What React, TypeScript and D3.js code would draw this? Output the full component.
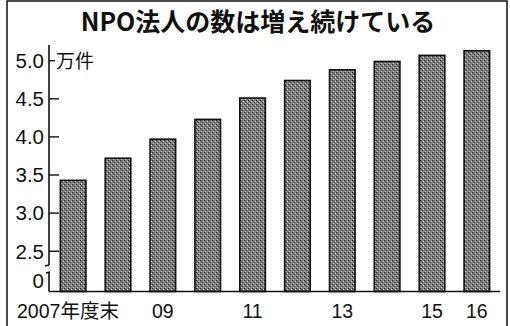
import React from "react";
import * as d3 from "d3";

const years = ["2007", "2008", "2009", "2010", "2011", "2012", "2013", "2014", "2015", "2016"];
const values = [3.43, 3.72, 3.97, 4.23, 4.51, 4.74, 4.88, 4.99, 5.07, 5.13];
const xLabels = ["2007年度末", "", "09", "", "11", "", "13", "", "15", "16"];
const yTicks = [0, 2.5, 3.0, 3.5, 4.0, 4.5, 5.0];
const yTickLabels = ["0", "2.5", "3.0", "3.5", "4.0", "4.5", "5.0"];
const title = "NPO法人の数は増え続けている";
const unit = "万件";

const W = 510;
const H = 326;
const numFont = "'Liberation Sans', Arial, 'Noto Sans CJK JP', sans-serif";
const jpFont = "'Noto Sans CJK JP', sans-serif";

export default function App() {
  const axisX = 49;
  const baseY = 291.5;
  // broken axis: 0..2.5 compressed, 2.5..5.0 linear
  const y = d3.scaleLinear().domain([0, 2.5, 5.0]).range([baseY, 251.2, 60.7]);
  const x = d3.scaleBand().domain(years).range([50.5, 499.5]).paddingInner(0.43).paddingOuter(0.22);

  return (
    <div style={{ position: "fixed", left: 0, top: 0, width: W, height: H, background: "#fff" }}>
      <svg width={W} height={H} style={{ display: "block" }}>
        <defs>
          <pattern id="tex" width="4" height="4" patternUnits="userSpaceOnUse">
            <rect width="4" height="4" fill="#7e7e7e" />
            <rect x="0" y="0" width="1" height="1" fill="#222" />
            <rect x="2" y="2" width="1" height="1" fill="#333" />
            <rect x="1" y="1" width="1" height="1" fill="#555" />
            <rect x="3" y="1" width="1" height="1" fill="#d8d8d8" />
            <rect x="1" y="3" width="1" height="1" fill="#c8c8c8" />
          </pattern>
        </defs>
        {/* frame */}
        <rect x={7} y={1} width={500} height={335} fill="none" stroke="#111" strokeWidth={1.5} />
        {/* title */}
        <text x={258} y={31} textAnchor="middle" fontFamily={jpFont} fontWeight={600} fontSize={25} fill="#111">
          {title}
        </text>
        {/* bars */}
        {values.map((v, i) => (
          <rect
            key={years[i]}
            x={x(years[i])}
            y={y(v)}
            width={x.bandwidth()}
            height={baseY - y(v)}
            fill="url(#tex)"
            stroke="#111"
            strokeWidth={1.6}
          />
        ))}
        {/* baseline */}
        <line x1={axisX} x2={500} y1={baseY} y2={baseY} stroke="#111" strokeWidth={1.6} />
        {/* y axis with break */}
        <line x1={axisX} x2={axisX} y1={45} y2={265} stroke="#111" strokeWidth={1.6} />
        <line x1={axisX} x2={axisX} y1={272} y2={baseY} stroke="#111" strokeWidth={1.6} />
        <path
          d={`M${axisX - 4},${266} L${axisX},${265} M${axisX - 3},${273} L${axisX + 1},${272}`}
          fill="none"
          stroke="#111"
          strokeWidth={1.4}
        />
        {yTicks.map((t, i) => (
          <g key={t}>
            {t !== 0 && (
              <line
                x1={axisX}
                x2={axisX + (t === 5.0 ? 6 : 10)}
                y1={y(t)}
                y2={y(t)}
                stroke="#111"
                strokeWidth={1.4}
              />
            )}
            <text
              x={44}
              y={t === 0 ? 281 : y(t)}
              dy="0.36em"
              textAnchor="end"
              fontFamily={numFont}
              fontSize={20.5}
              fill="#111"
            >
              {yTickLabels[i]}
            </text>
          </g>
        ))}
        <text x={56} y={y(5.0)} dy="0.36em" fontFamily={jpFont} fontSize={19} fill="#111">
          {unit}
        </text>
        {/* x labels */}
        {xLabels.map((l, i) =>
          l ? (
            <text
              key={i}
              x={i === 0 ? 17 : (x(years[i]) as number) + x.bandwidth() / 2}
              y={318}
              textAnchor={i === 0 ? "start" : "middle"}
              fontFamily={numFont}
              fontSize={19.5}
              fill="#111"
            >
              {l}
            </text>
          ) : null
        )}
      </svg>
    </div>
  );
}
